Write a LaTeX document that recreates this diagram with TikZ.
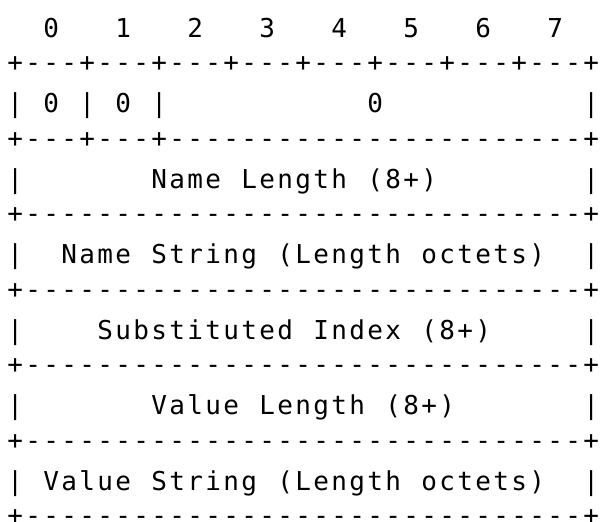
\documentclass[tikz,border=0pt]{standalone}
\usepackage{fontspec}
\newfontfamily\asciifont{DejaVu Sans Mono}

% one fixed-width cell per character, ~ stands for a blank
\newlength\cellw
\setlength\cellw{18pt}
\newcommand\gridline[1]{\gridcell#1\relax}
\newcommand\gridcell[1]{\ifx#1\relax\else\makebox[\cellw]{#1}\expandafter\gridcell\fi}

\begin{document}
\begin{tikzpicture}[x=1pt, y=1pt,
        row/.style={anchor=base west, inner sep=0pt,
            font=\asciifont\fontsize{26}{30}\selectfont}]

    \useasboundingbox (0, 0) rectangle (600, -522);

    \node[row] (bits)  at (6, -37.3)  {\gridline{~~0~~~1~~~2~~~3~~~4~~~5~~~6~~~7}};
    \node[row] (top)   at (6, -71.7)  {\gridline{+---+---+---+---+---+---+---+---+}};
    \node[row] (flags) at (6, -112.8) {\gridline{|~0~|~0~|~~~~~~~~~~~0~~~~~~~~~~~|}};
    \node[row] (sep1)  at (6, -147.2) {\gridline{+---+---+-----------------------+}};
    \node[row] (nlen)  at (6, -188.3) {\gridline{|~~~~~~~Name~Length~(8+)~~~~~~~~|}};
    \node[row] (sep2)  at (6, -222.7) {\gridline{+-------------------------------+}};
    \node[row] (nstr)  at (6, -263.8) {\gridline{|~~Name~String~(Length~octets)~~|}};
    \node[row] (sep3)  at (6, -298.2) {\gridline{+-------------------------------+}};
    \node[row] (sidx)  at (6, -339.3) {\gridline{|~~~~Substituted~Index~(8+)~~~~~|}};
    \node[row] (sep4)  at (6, -373.7) {\gridline{+-------------------------------+}};
    \node[row] (vlen)  at (6, -414.8) {\gridline{|~~~~~~~Value~Length~(8+)~~~~~~~|}};
    \node[row] (sep5)  at (6, -449.2) {\gridline{+-------------------------------+}};
    \node[row] (vstr)  at (6, -490.3) {\gridline{|~Value~String~(Length~octets)~~|}};
    \node[row] (bot)   at (6, -524.7) {\gridline{+-------------------------------+}};
\end{tikzpicture}
\end{document}
